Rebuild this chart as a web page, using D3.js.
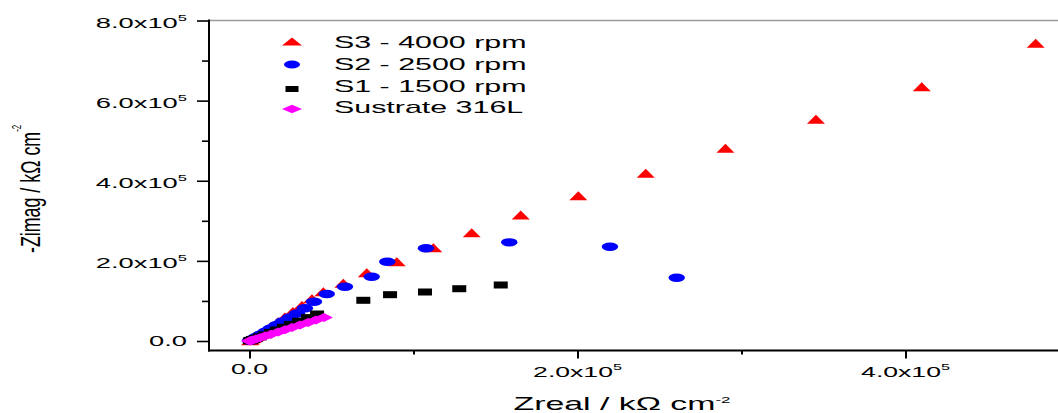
<!DOCTYPE html>
<html>
<head>
<meta charset="utf-8">
<script src="https://cdn.jsdelivr.net/npm/d3@7"></script>
<style>
  body { margin: 0; background: #fff; }
  svg { display: block; }
  text { font-family: "Liberation Sans", Arial, Helvetica, sans-serif; fill: #000; }
</style>
</head>
<body>
<svg id="chart" width="1058" height="413"></svg>
<script>
// Nyquist data: Zreal and -Zimag in kΩ·cm⁻²
const s3Zreal = [300, 900, 2100, 4000, 6400, 9500, 13100, 17400, 21600, 26500, 32000, 38100,
                 45000, 57200, 71500, 89800, 112100, 135500, 165400, 200500, 241600, 290200, 345400, 409900, 479400];
const s3Zimag = [800, 2500, 6000, 11000, 17700, 26200, 36200, 47900, 59900, 73400, 88400, 105300,
                 123100, 144000, 170500, 197900, 232900, 270300, 314500, 362700, 418600, 481000, 553400, 634700, 743100];

const s2Zreal = [300, 1200, 2700, 4600, 7000, 10100, 13100, 16800, 20400, 24700, 29000,
                 33800, 39300, 47100, 58200, 74500, 84000, 107600, 158400, 219800, 260500];
const s2Zimag = [700, 2900, 6500, 10900, 16600, 23900, 31100, 39800, 48500, 58600, 68800,
                 81600, 98100, 117300, 135500, 160500, 197900, 231400, 246300, 235400, 158000];

const s1Zreal = [300, 900, 2100, 4000, 6400, 9500, 13100, 16800, 21000, 25300, 30200, 35700, 41200,
                 69400, 85700, 107000, 127900, 153200];
const s1Zimag = [500, 1500, 3500, 6500, 10500, 15500, 21500, 27500, 34400, 41400, 49400, 58400, 67400,
                 101600, 115600, 122300, 130500, 139800];

const subZreal = [200, 900, 2100, 4000, 6400, 9500, 13100, 17400, 21600, 25900, 30800, 35700, 40500, 45400];
const subZimag = [300, 1200, 2700, 5000, 8200, 12200, 17000, 22500, 28000, 33400, 39900, 46200, 52400, 58700];

const seriesNames = ["S3 - 4000 rpm", "S2 - 2500 rpm", "S1 - 1500 rpm", "Sustrate 316L"];

const xMajorTicks = [0, 200000, 400000];
const xMinorTicks = [100000, 300000];
const xTickLabels = ["0.0", "2.0x10^5", "4.0x10^5"];
const yMajorTicks = [0, 200000, 400000, 600000, 800000];
const yMinorTicks = [100000, 300000, 500000, 700000];
const yTickLabels = ["0.0", "2.0x10^5", "4.0x10^5", "6.0x10^5", "8.0x10^5"];

const xTitle = ["Zreal / kΩ cm", "-2"];
const yTitle = ["-Zimag / kΩ cm", "-2"];

// ---------------------------------------------------------------
const svg = d3.select("#chart");
const W = 1058;

const x = d3.scaleLinear().domain([0, 200000]).range([249.5, 577.5]);
const y = d3.scaleLinear().domain([0, 800000]).range([341, 20.5]);

const leftX = 209, bottomY = 350.5, topY = 20.5;
const SX = 1.9; // horizontal stretch of the lettering

// frame
svg.append("line").attr("x1", leftX).attr("x2", W).attr("y1", topY).attr("y2", topY)
  .attr("stroke", "#9a9a9a").attr("stroke-width", 1.3);

// ticks
function tickGroup(axis, transform, width) {
  const g = svg.append("g").attr("transform", transform).call(axis);
  g.select(".domain").remove();
  g.selectAll(".tick line").attr("stroke", "#000").attr("stroke-width", width);
  g.selectAll(".tick text").remove();
  return g;
}
tickGroup(d3.axisLeft(y).tickValues(yMajorTicks).tickSize(12), `translate(${leftX},0)`, 1.6);
tickGroup(d3.axisLeft(y).tickValues(yMinorTicks).tickSize(7), `translate(${leftX},0)`, 1.6);
tickGroup(d3.axisBottom(x).tickValues(xMajorTicks).tickSize(8), `translate(0,${bottomY})`, 2);
tickGroup(d3.axisBottom(x).tickValues(xMinorTicks).tickSize(4), `translate(0,${bottomY})`, 2);

// axis lines
svg.append("line").attr("x1", leftX).attr("x2", leftX).attr("y1", topY - 1).attr("y2", bottomY + 1)
  .attr("stroke", "#000").attr("stroke-width", 2);
svg.append("line").attr("x1", leftX - 1).attr("x2", W).attr("y1", bottomY).attr("y2", bottomY)
  .attr("stroke", "#000").attr("stroke-width", 2);

// stretched label with optional superscript ("mant^exp")
function label(px, py, str, anchor, size, supSize, supDy, sx) {
  const [main, sup] = str.split("^");
  const g = svg.append("g").attr("transform", `translate(${px},${py}) scale(${sx},1)`);
  const t = g.append("text").attr("text-anchor", anchor).attr("font-size", size);
  t.append("tspan").text(main);
  if (sup) t.append("tspan").attr("font-size", supSize).attr("dy", supDy).text(sup);
  return g;
}

yMajorTicks.forEach((v, i) => {
  const s = yTickLabels[i];
  label(187, y(v) + (s.includes("^") ? 7 : 4.5), s, "end", 14, 8.5, -6.5, 1.95);
});
xMajorTicks.forEach((v, i) => {
  const s = xTickLabels[i];
  label(x(v), s.includes("^") ? 376.5 : 373.5, s, "middle", 14, 8.5, -6.5, 1.9);
});

// axis titles
label(622, 410, xTitle[0] + "^" + xTitle[1], "middle", 18, 9, -7, 1.88);
{
  const g = svg.append("g").attr("transform", "translate(40,253) rotate(-90) scale(0.99,1.5)");
  const t = g.append("text").attr("text-anchor", "start").attr("font-size", 18);
  t.append("tspan").text(yTitle[0]);
  t.append("tspan").attr("font-size", 8).attr("dy", -13).text(yTitle[1]);
}

// marker shapes
const markers = [
  { color: "#ff0000", draw: (sel, w, h) => sel.append("path").attr("d", `M0,${-h / 2}L${w / 2},${h / 2}L${-w / 2},${h / 2}Z`), w: 18, h: 9, lw: 20, lh: 8 },
  { color: "#0000ff", draw: (sel, w, h) => sel.append("ellipse").attr("rx", w / 2).attr("ry", h / 2), w: 16.5, h: 8.4, lw: 16, lh: 8 },
  { color: "#000000", draw: (sel, w, h) => sel.append("rect").attr("x", -w / 2).attr("y", -h / 2).attr("width", w).attr("height", h), w: 14, h: 7, lw: 13, lh: 6 },
  { color: "#ff00ff", draw: (sel, w, h) => sel.append("path").attr("d", `M0,${-h / 2}L${w / 2},0L0,${h / 2}L${-w / 2},0Z`), w: 18, h: 9, lw: 20, lh: 8.5 }
];

const series = [
  { re: s3Zreal, im: s3Zimag },
  { re: s2Zreal, im: s2Zimag },
  { re: s1Zreal, im: s1Zimag },
  { re: subZreal, im: subZimag }
];

series.forEach((s, k) => {
  const m = markers[k];
  const pts = s.re.map((r, i) => [r, s.im[i]]);
  const g = svg.append("g").attr("fill", m.color);
  g.selectAll("g.pt").data(pts).join("g").attr("class", "pt")
    .attr("transform", d => `translate(${x(d[0])},${y(d[1])})`)
    .each(function () { m.draw(d3.select(this), m.w, m.h); });
});

// legend
const legMarkY = [41.5, 64.5, 89, 109];
const legTextY = [47.5, 69.5, 91.5, 113];
seriesNames.forEach((name, k) => {
  const m = markers[k];
  const g = svg.append("g").attr("fill", m.color).attr("transform", `translate(292,${legMarkY[k]})`);
  m.draw(g, m.lw, m.lh);
  label(334, legTextY[k], name, "start", 16, 10, -6, 1.9);
});
</script>
</body>
</html>
